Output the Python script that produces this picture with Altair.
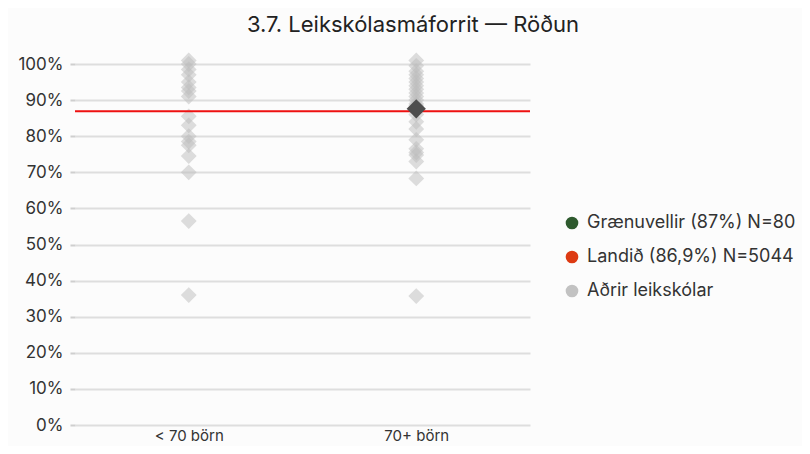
import altair as alt
import pandas as pd

categories = ["< 70 börn", "70+ börn"]

small_values = [1.01, 1.00, 0.985, 0.97, 0.95, 0.935, 0.925, 0.91, 0.855, 0.83,
                0.80, 0.785, 0.775, 0.745, 0.70, 0.565, 0.36]
large_values = [1.01, 0.995, 0.98, 0.97, 0.96, 0.95, 0.94, 0.93, 0.92, 0.91, 0.90,
                0.89, 0.885, 0.88, 0.86, 0.84, 0.82, 0.79, 0.765, 0.755, 0.748,
                0.73, 0.683, 0.357]

highlight_category = "70+ börn"
highlight_value = 0.876
national_value = 0.869

tick_values = [0.0, 0.1, 0.2, 0.3, 0.4, 0.5, 0.6, 0.7, 0.8, 0.9, 1.0]

legend_labels = ["Grænuvellir (87%) N=80", "Landið (86,9%) N=5044", "Aðrir leikskólar"]
legend_colors = ["#2e5a2e", "#dd3a12", "#c2c2c2"]

FONT = "Inter"

others = pd.DataFrame(
    [{"cat": categories[0], "v": v} for v in small_values]
    + [{"cat": categories[1], "v": v} for v in large_values]
)
hl = pd.DataFrame([{"cat": highlight_category, "v": highlight_value}])
nat = pd.DataFrame([{"v": national_value}])
leg = pd.DataFrame([{"lab": l, "cat": categories[0], "v": 0.5} for l in legend_labels])

xaxis = alt.Axis(title=None, labelAngle=0, domain=False, ticks=False,
                 labelFontSize=15, labelColor="#333", labelFont=FONT, labelPadding=3)
xscale = alt.Scale(domain=categories, paddingInner=0, paddingOuter=0)
yscale = alt.Scale(domain=[0, 1], nice=False, clamp=False)
yaxis = alt.Axis(title=None, format=".0%", values=tick_values,
                 labelOverlap=False, domain=False, tickSize=5, tickColor="#cfcfcf",
                 tickWidth=2, gridColor="#dedede", gridWidth=2,
                 labelFontSize=17, labelColor="#333", labelFont=FONT, labelPadding=7)


def xe():
    return alt.X("cat:N", sort=categories, scale=xscale, axis=xaxis)


def ye():
    return alt.Y("v:Q", scale=yscale, axis=yaxis)


pts = alt.Chart(others).mark_point(
    shape="diamond", filled=True, size=250, color="#bbbbbb", opacity=0.5, clip=False
).encode(x=xe(), y=ye())

rule = alt.Chart(nat).mark_rule(color="#ee1111", strokeWidth=2).encode(y=ye())

hlp = alt.Chart(hl).mark_point(
    shape="diamond", filled=True, size=370, color="#4d4d4d", opacity=1
).encode(x=xe(), y=ye())

legend_layer = alt.Chart(leg).mark_point(filled=True, opacity=0, size=1).encode(
    x=xe(),
    y=ye(),
    color=alt.Color(
        "lab:N",
        scale=alt.Scale(domain=legend_labels, range=legend_colors),
        legend=alt.Legend(
            title=None, orient="none", legendX=488, legendY=150,
            symbolType="circle", symbolSize=160, symbolOpacity=1,
            symbolStrokeWidth=0, labelFontSize=18, labelColor="#333",
            labelFont=FONT, rowPadding=16, labelOffset=6, labelLimit=400,
        ),
    ),
)

chart = (
    alt.layer(pts, rule, hlp, legend_layer)
    .properties(
        width=455,
        height=361,
        autosize=alt.AutoSizeParams(type="none"),
        padding={"left": 67, "top": 56, "right": 272, "bottom": 21},
        background="#fcfcfc",
        title=alt.Title(
            "3.7. Leikskólasmáforrit — Röðun",
            fontSize=22, font=FONT, fontWeight="normal", color="#222",
            anchor="middle", frame="bounds", offset=15, dx=6,
        ),
    )
    .configure_view(stroke=None)
)

chart.save("out.html", embed_options={"renderer": "svg", "actions": False})
